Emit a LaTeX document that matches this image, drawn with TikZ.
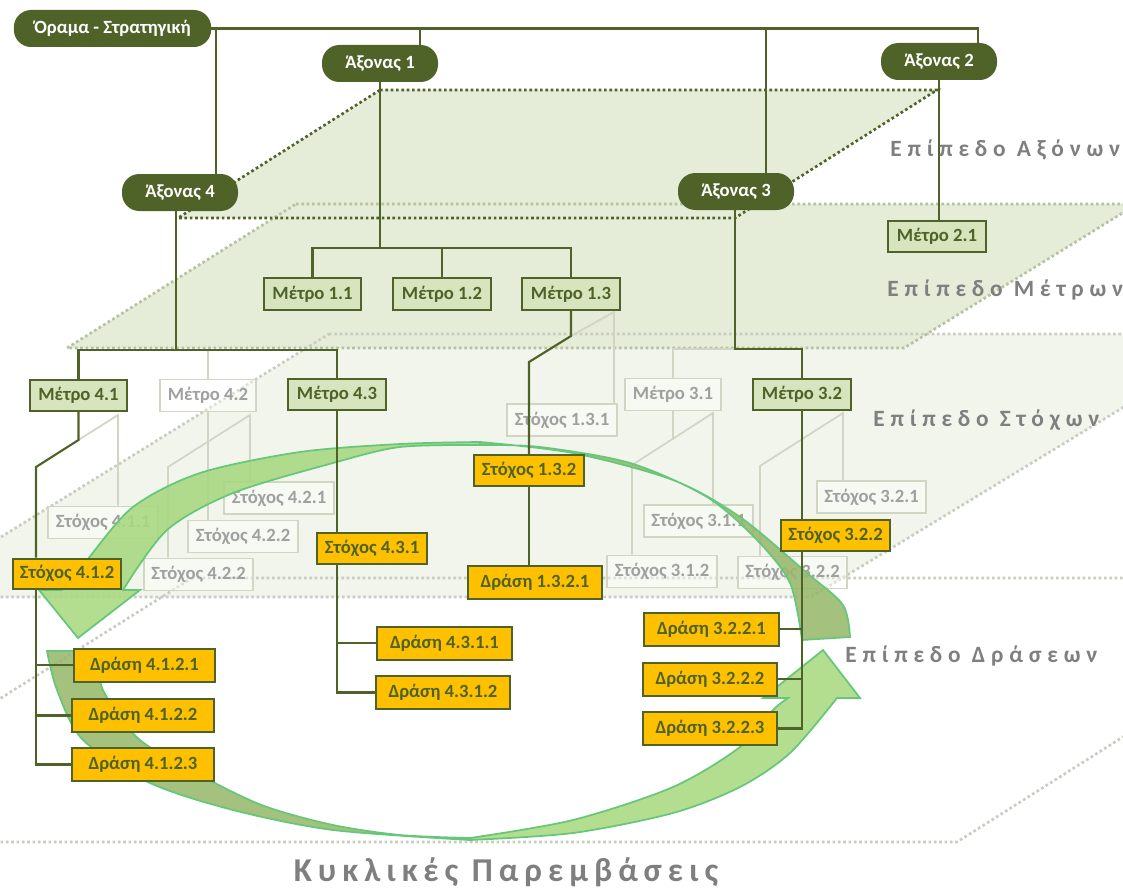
\documentclass[tikz,border=0pt]{standalone}
\usepackage{fontspec}
\setmainfont{Carlito}
\newfontfamily\levelfont[LetterSpace=25]{Carlito}
\newfontfamily\cyclefont[LetterSpace=18]{Carlito}
\definecolor{axgreen}{HTML}{4F6228}
\definecolor{metrofill}{HTML}{D7E4BD}
\definecolor{goldfill}{HTML}{FFC000}
\definecolor{planefill}{HTML}{E5ECD8}
\definecolor{paleplane}{HTML}{F2F5EC}
\definecolor{planeedge}{HTML}{B5C3A0}
\definecolor{greyedge}{HTML}{C9CCC1}
\definecolor{fadeline}{HTML}{D0D5C4}
\definecolor{fadetext}{HTML}{A0A0A0}
\definecolor{levelgrey}{HTML}{7F7F7F}
\definecolor{bandlight}{HTML}{A8D880}
\definecolor{banddark}{HTML}{97B86C}
\definecolor{bandedge}{HTML}{66C77A}
\pgfdeclarelayer{planes}
\pgfdeclarelayer{faded}
\pgfdeclarelayer{band}
\pgfdeclarelayer{links}
\pgfsetlayers{planes,faded,band,links,main}
\begin{document}
\begin{tikzpicture}[x=0.75pt,y=-0.75pt,
            boxfont/.style={font=\bfseries\fontsize{14}{16}\selectfont},
            axon/.style={boxfont, fill=axgreen, text=white, rounded corners=13pt, minimum width=87pt, minimum height=27.75pt, inner sep=0pt},
            metro/.style={boxfont, draw=axgreen, line width=1.5pt, fill=metrofill, text=axgreen, minimum width=73pt, minimum height=23.5pt, inner sep=0pt},
            goal/.style={boxfont, draw=axgreen, line width=1.5pt, fill=goldfill, text=axgreen, minimum width=82pt, minimum height=23.5pt, inner sep=0pt},
            act/.style={goal, minimum width=101pt, minimum height=24.75pt},
            fadedbox/.style={boxfont, draw=fadeline, line width=1.3pt, fill=white, fill opacity=0.4, text opacity=1, text=fadetext, minimum width=82pt, minimum height=24pt, inner sep=0pt},
            link/.style={draw=axgreen, line width=1.6pt},
            fadelink/.style={draw=fadeline, line width=1.3pt},
            layername/.style={anchor=west, inner sep=0pt, text=levelgrey, font=\levelfont\bfseries\fontsize{17.5}{20}\selectfont},
            planeline/.style={dash pattern=on 2pt off 2pt, line width=2pt},
            ribbon/.style={draw=bandedge, line width=1.3pt, fill opacity=0.88}]
            \useasboundingbox (0,0) rectangle (1123,888);

            \node [axon, minimum width=148pt] (oram) at (112.5,28.5) {Όραμα - Στρατηγική};
            \node [axon] (ax1) at (380,63.5) {Άξονας 1};
            \node [axon] (ax2) at (939,61.5) {Άξονας 2};
            \node [axon] (ax3) at (736,191.5) {Άξονας 3};
            \node [axon] (ax4) at (180,192.5) {Άξονας 4};

            \node [metro] (m11) at (312.5,294) {Μέτρο 1.1};
            \node [metro] (m12) at (442,294) {Μέτρο 1.2};
            \node [metro] (m13) at (571,294) {Μέτρο 1.3};
            \node [metro] (m21) at (937,236.5) {Μέτρο 2.1};
            \node [metro] (m41) at (78.5,395.5) {Μέτρο 4.1};
            \node [metro] (m43) at (337,394.5) {Μέτρο 4.3};
            \node [metro] (m32) at (802,394.5) {Μέτρο 3.2};

            \node [goal] (s132) at (529,470.5) {Στόχος 1.3.2};
            \node [goal, minimum width=81pt, minimum height=22.5pt] (s412) at (67,573.5) {Στόχος 4.1.2};
            \node [goal] (s431) at (372,548.5) {Στόχος 4.3.1};
            \node [goal] (s322) at (835.5,535.5) {Στόχος 3.2.2};

            \node [act] (d1321) at (535,582.5) {Δράση 1.3.2.1};
            \node [act, minimum width=106pt] (d4121) at (144.5,665) {Δράση 4.1.2.1};
            \node [act, minimum width=106pt] (d4122) at (143,715.5) {Δράση 4.1.2.2};
            \node [act, minimum width=106pt] (d4123) at (143,764.5) {Δράση 4.1.2.3};
            \node [act] (d4311) at (444.5,643) {Δράση 4.3.1.1};
            \node [act] (d4312) at (443,692.5) {Δράση 4.3.1.2};
            \node [act] (d3221) at (711.5,629) {Δράση 3.2.2.1};
            \node [act] (d3222) at (710,679) {Δράση 3.2.2.2};
            \node [act] (d3223) at (710,728.5) {Δράση 3.2.2.3};

            \node [layername] (lax) at (890,150) {Επίπεδο Αξόνων};
            \node [layername] (lme) at (887,290) {Επίπεδο Μέτρων};
            \node [layername] (lst) at (873,420) {Επίπεδο Στόχων};
            \node [layername] (ldr) at (845,656) {Επίπεδο Δράσεων};
            \node [layername, anchor=center, font=\cyclefont\bfseries\fontsize{25}{28}\selectfont] (lcy) at (506,872) {Κυκλικές Παρεμβάσεις};

            \begin{pgfonlayer}{planes}
            \fill[paleplane] (329,334) -- (1244,334) -- (811,597) -- (-96,597) -- cycle;
            \fill[planefill] (296,204) -- (1137,204) -- (904,348) -- (67,348) -- cycle;
            \fill[planefill] (380,90) -- (937,90) -- (735,218) -- (178,218) -- cycle;
            \draw[planeline, greyedge] (192,578) -- (1374,578) -- (957,842) -- (-228,842) -- cycle;
            \draw[planeline, greyedge] (329,334) -- (1244,334) -- (811,597) -- (-96,597) -- cycle;
            \draw[planeline, planeedge] (296,204) -- (1137,204) -- (904,348) -- (67,348) -- cycle;
            \draw[planeline, axgreen] (380,90) -- (937,90) -- (735,218) -- (178,218) -- cycle;
            \end{pgfonlayer}

            \begin{pgfonlayer}{faded}
            \node [fadedbox, minimum width=72.5pt] (m42) at (208,395.5) {Μέτρο 4.2};
            \node [fadedbox, minimum width=72.5pt] (m31) at (673,394.5) {Μέτρο 3.1};
            \node [fadedbox] (s131) at (562,420) {Στόχος 1.3.1};
            \node [fadedbox] (s411) at (103,522.5) {Στόχος 4.1.1};
            \node [fadedbox] (s421) at (279,498) {Στόχος 4.2.1};
            \node [fadedbox] (s422) at (243,536.5) {Στόχος 4.2.2};
            \node [fadedbox] (s422b) at (198.5,574.5) {Στόχος 4.2.2};
            \node [fadedbox] (s311) at (698.5,521) {Στόχος 3.1.1};
            \node [fadedbox] (s312) at (662,571.5) {Στόχος 3.1.2};
            \node [fadedbox] (s321) at (871.5,497) {Στόχος 3.2.1};
            \node [fadedbox] (s322b) at (792.5,572.5) {Στόχος 3.2.2};
            \coordinate (b4) at (176,350);
            \coordinate (b3) at (735,349);
            \coordinate (j13) at (571,336);
            \coordinate (f13) at (614,312);
            \coordinate (j41) at (78.5,440);
            \coordinate (f41) at (118,415);
            \coordinate (j42) at (208,440);
            \coordinate (f42) at (250,415);
            \coordinate (k42) at (168,467);
            \coordinate (j31) at (673,440);
            \coordinate (f31) at (713,413);
            \coordinate (k31) at (632,465);
            \coordinate (f32) at (843,413);
            \coordinate (k32) at (760,466);
            \draw[fadelink] (b4 -| m42.north) -- (m42.north);
            \draw[fadelink] (b3) -| (m31.north);
            \draw[fadelink] (j13) -- (f13) -- (f13 |- s131.north);
            \draw[fadelink] (j41) -- (f41) -- (f41 |- s411.north);
            \draw[fadelink] (m42.south) -- (m42.south |- s422.north);
            \draw[fadelink] (k42 |- s422b.north) -- (k42) -- (f42) -- (f42 |- s421.north);
            \draw[fadelink] (m31.south) -- (j31);
            \draw[fadelink] (k31 |- s312.north) -- (k31) -- (f31) -- (f31 |- s311.north);
            \draw[fadelink] (k32 |- s322b.north) -- (k32) -- (f32) -- (f32 |- s321.north);
            \end{pgfonlayer}

            \begin{pgfonlayer}{band}
            \filldraw[ribbon, fill=bandlight] plot[smooth] coordinates {(480,442) (400,444) (300,452) (200,473) (133,507) (87,560) (62,590)} -- (39,590) -- (78,638) -- (140,590) -- (123,590) -- plot[smooth] coordinates {(123,590) (167,530) (233,493) (333,463) (400,447) (480,445)} -- cycle;
            \filldraw[ribbon, fill=banddark] plot[smooth] coordinates {(480,442) (573,453) (673,480) (740,517) (807,573) (843,605) (850,637)} -- (802,640) -- plot[smooth] coordinates {(802,640) (790,583) (757,540) (707,497) (630,463) (540,447) (480,445)} -- cycle;
            \filldraw[ribbon, fill=banddark] plot[smooth] coordinates {(47,651) (57,690) (83,740) (150,783) (233,810) (333,830) (470,840)} -- plot[smooth] coordinates {(470,838) (400,835) (333,825) (267,807) (213,782) (140,740) (103,690) (97,651)} -- cycle;
            \filldraw[ribbon, fill=bandlight] plot[smooth] coordinates {(470,840) (573,833) (673,813) (740,787) (790,753) (837,698)} -- (860,698) -- (823,650) -- (763,698) -- (788,698) -- plot[smooth] coordinates {(788,698) (773,710) (740,747) (673,787) (573,820) (470,838)} -- cycle;
            \end{pgfonlayer}

            \begin{pgfonlayer}{links}
            \coordinate (t1) at ([xshift=30pt]ax1.north);
            \coordinate (t3) at ([xshift=22.5pt]ax3.north);
            \coordinate (t4) at ([xshift=27pt]ax4.north);
            \coordinate (b1) at (380,248);
            \coordinate (k13) at (529,362);
            \coordinate (k41) at (36,467);
            \draw[link] (oram.east) -| ([xshift=29pt]ax2.north);
            \draw[link] (t1 |- oram.east) -- (t1);
            \draw[link] (t3 |- oram.east) -- (t3);
            \draw[link] (t4 |- oram.east) -- (t4);
            \draw[link] (ax1.south) -- (b1);
            \draw[link] (m11.north) |- (b1) -| (m13.north);
            \draw[link] (b1 -| m12.north) -- (m12.north);
            \draw[link] (ax2.south) -- (ax2.south |- m21.north);
            \draw[link] (b4 |- ax4.south) -- (b4);
            \draw[link] (m41.north) |- (b4) -| (m43.north);
            \draw[link] (b3 |- ax3.south) -- (b3) -| (m32.north);
            \draw[link] (m13.south) -- (j13) -- (k13) -- (s132.north);
            \draw[link] (s132.south) -- (s132.south |- d1321.north);
            \draw[link] (m41.south) -- (j41) -- (k41) -- (k41 |- s412.north);
            \draw[link] (k41 |- s412.south) |- (d4123.west);
            \draw[link] (k41 |- d4121.west) -- (d4121.west);
            \draw[link] (k41 |- d4122.west) -- (d4122.west);
            \draw[link] (m43.south) -- (m43.south |- s431.north);
            \draw[link] (m43.south |- s431.south) |- (d4312.west);
            \draw[link] (m43.south |- d4311.west) -- (d4311.west);
            \draw[link] (m32.south) -- (m32.south |- s322.north);
            \draw[link] (m32.south |- s322.south) |- (d3223.east);
            \draw[link] (m32.south |- d3221.east) -- (d3221.east);
            \draw[link] (m32.south |- d3222.east) -- (d3222.east);
            \end{pgfonlayer}
\end{tikzpicture}
\end{document}
